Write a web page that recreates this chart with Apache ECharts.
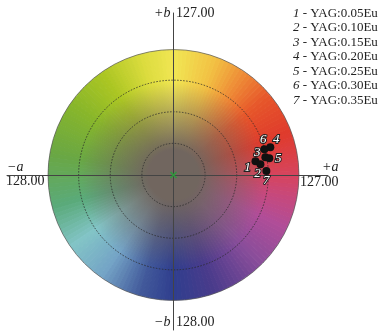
<!DOCTYPE html>
<html>
<head>
<meta charset="utf-8">
<script src="https://cdn.jsdelivr.net/npm/echarts@6/dist/echarts.min.js"></script>
<style>
  html, body { margin: 0; background: #fff; }
  #main { width: 382px; height: 334px; }
</style>
</head>
<body>
<div id="main"></div>
<script>
// samples in the a*b* plane
const sampleNames = ['YAG:0.05Eu', 'YAG:0.10Eu', 'YAG:0.15Eu', 'YAG:0.20Eu', 'YAG:0.25Eu', 'YAG:0.30Eu', 'YAG:0.35Eu'];
const aValues = [83, 88, 93, 98, 97, 92, 94];
const bValues = [14, 11, 18, 28, 17, 26, 4];
// label offset of each point number (px)
const labelOffsets = [[-8, 6], [-3, 9], [-8, -5], [6, -8], [9, 0], [-1, -10], [0, 10]];

// colour wheel background
const wheelRadius = 127;
const ringRadii = [32, 64, 96];
const hueAngles = [0, 20, 40, 55, 70, 90, 105, 125, 145, 170, 195, 215, 235, 255, 270, 290, 315, 335, 350, 360];
const hueColors = ['#d6445e', '#df3a2c', '#e6562a', '#ee8a36', '#f2c043', '#f1e653', '#dcdc3e', '#abc622', '#88b62a', '#6aa743',
  '#5aaa7a', '#82c4c6', '#74a4c6', '#41589a', '#2f3e8e', '#4a3b8b', '#8a4d9a', '#b04d98', '#c8487a', '#d6445e'];
const centerGray = '113,102,95';

function hex2rgb(h) {
  return [parseInt(h.slice(1, 3), 16), parseInt(h.slice(3, 5), 16), parseInt(h.slice(5, 7), 16)];
}
function hueColor(deg) {
  let i = 0;
  while (i < hueAngles.length - 2 && deg > hueAngles[i + 1]) i++;
  const t = (deg - hueAngles[i]) / (hueAngles[i + 1] - hueAngles[i]);
  const c0 = hex2rgb(hueColors[i]), c1 = hex2rgb(hueColors[i + 1]);
  const c = c0.map((v, k) => Math.round(v + (c1[k] - v) * t));
  return 'rgb(' + c.join(',') + ')';
}

const myChart = echarts.init(document.getElementById('main'));

const serif = 'Liberation Serif';
let legendTexts = sampleNames.map((name, i) => ({
  type: 'text',
  left: 293,
  top: 7 + i * 14.45,
  style: {
    text: '{n|' + (i + 1) + '} - ' + name,
    fontFamily: serif,
    fontSize: 13,
    fill: '#222',
    rich: { n: { fontStyle: 'italic', fontFamily: serif, fontSize: 13 } },
  },
}));

function axisText(x, y, text, italic) {
  return {
    type: 'text',
    left: x,
    top: y,
    style: {
      text: text,
      fontFamily: serif,
      fontSize: 14,
      fontStyle: italic ? 'italic' : 'normal',
      fill: '#222',
    },
  };
}

let option = {
  animation: false,
  grid: { left: 7, right: 54, top: 13, bottom: 4 },
  xAxis: {
    type: 'value',
    min: -168.5,
    max: 156.4,
    z: 5,
    axisLine: { onZero: true, lineStyle: { color: '#444', width: 1 } },
    axisTick: { show: false },
    axisLabel: { show: false },
    splitLine: { show: false },
  },
  yAxis: {
    type: 'value',
    min: -156.9,
    max: 164,
    z: 5,
    axisLine: { onZero: true, lineStyle: { color: '#444', width: 1 } },
    axisTick: { show: false },
    axisLabel: { show: false },
    splitLine: { show: false },
  },
  graphic: legendTexts.concat([
    axisText(7, 160, '\u2212a', true),
    axisText(6, 174, '128.00', false),
    axisText(322, 160, '+a', true),
    axisText(300, 175, '127.00', false),
    axisText(154, 6, '+b', true),
    axisText(176, 6, '127.00', false),
    axisText(154, 315, '\u2212b', true),
    axisText(176, 315, '128.00', false),
  ]),
  series: [
    {
      type: 'custom',
      z: 1,
      silent: true,
      data: [[0, 0]],
      renderItem: function (params, api) {
        const c = api.coord([0, 0]);
        const rPx = api.size([wheelRadius, 0])[0];
        const children = [];
        const step = 2;
        // hue slices
        for (let d = 0; d < 360; d += step) {
          const col = hueColor(d + step / 2);
          children.push({
            type: 'sector',
            shape: {
              cx: c[0], cy: c[1], r0: 0, r: rPx - 0.5,
              startAngle: -(d + step) * Math.PI / 180,
              endAngle: -d * Math.PI / 180,
            },
            style: { fill: col, stroke: col, lineWidth: 1 },
          });
        }
        // grey centre fading out
        children.push({
          type: 'circle',
          shape: { cx: c[0], cy: c[1], r: rPx },
          style: {
            fill: {
              type: 'radial', x: c[0], y: c[1], r: rPx, global: true,
              colorStops: [
                { offset: 0, color: 'rgba(' + centerGray + ',1)' },
                { offset: 0.2, color: 'rgba(' + centerGray + ',1)' },
                { offset: 0.45, color: 'rgba(' + centerGray + ',0.55)' },
                { offset: 0.74, color: 'rgba(' + centerGray + ',0)' },
                { offset: 1, color: 'rgba(' + centerGray + ',0)' },
              ],
            },
            stroke: '#555',
            lineWidth: 0.7,
          },
        });
        ringRadii.forEach((rr) => {
          children.push({
            type: 'circle',
            shape: { cx: c[0], cy: c[1], r: api.size([rr, 0])[0] },
            style: { fill: 'none', stroke: '#2a2a2a', lineWidth: 0.8, lineDash: [1.5, 1.5] },
          });
        });
        return { type: 'group', children: children };
      },
    },
    {
      type: 'scatter',
      z: 8,
      silent: true,
      symbol: 'path://M0,0L10,10M10,0L0,10',
      symbolSize: 6,
      itemStyle: { color: 'none', borderColor: '#2e9a3c', borderWidth: 1.5, opacity: 1 },
      data: [[0, 0]],
    },
    {
      type: 'scatter',
      z: 10,
      symbolSize: 8,
      itemStyle: { color: '#111', opacity: 1 },
      data: aValues.map((a, i) => ({
        value: [a, bValues[i]],
        label: {
          show: true,
          position: 'inside',
          offset: labelOffsets[i],
          formatter: String(i + 1),
          fontFamily: serif,
          fontStyle: 'italic',
          fontSize: 13,
          color: '#fff',
          textBorderColor: '#222',
          textBorderWidth: 2,
        },
      })),
    },
  ],
};
myChart.setOption(option);
</script>
</body>
</html>
